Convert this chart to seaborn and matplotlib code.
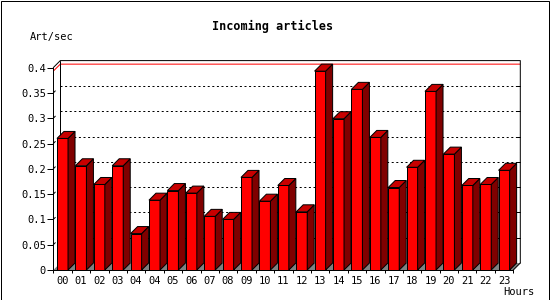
import numpy as np
import pandas as pd
import matplotlib
matplotlib.use("Agg")
import matplotlib.pyplot as plt
from matplotlib.patches import Polygon, Rectangle
import seaborn as sns

# ---- data ----
hours = ["00", "01", "02", "03", "04", "04", "05", "06", "07", "08", "09", "10",
         "11", "12", "13", "14", "15", "16", "17", "18", "19", "20", "21", "22", "23"]
rates = [0.260, 0.206, 0.169, 0.206, 0.072, 0.138, 0.157, 0.152, 0.106, 0.100,
         0.183, 0.136, 0.167, 0.115, 0.393, 0.299, 0.357, 0.262, 0.163, 0.203,
         0.353, 0.229, 0.167, 0.169, 0.197]
yticks = [0, 0.05, 0.1, 0.15, 0.2, 0.25, 0.3, 0.35, 0.4]
ytick_labels = ["0", "0.05", "0.1", "0.15", "0.2", "0.25", "0.3", "0.35", "0.4"]
title = "Incoming articles"
ylabel = "Art/sec"
xlabel = "Hours"

sns.set_style("white")
plt.rcParams["font.family"] = ["DejaVu Sans Mono"]

W, H = 550, 300
fig = plt.figure(figsize=(W / 100, H / 100), dpi=100)
fig.patch.set_facecolor("white")

# front plane axes (pixel geometry)
left_px, right_px, bottom_px, top_px = 53.3, 513.3, 270.0, 67.6
ax = fig.add_axes([left_px / W, 1 - bottom_px / H,
                   (right_px - left_px) / W, (bottom_px - top_px) / H])
ax.set_facecolor("none")

df = pd.DataFrame({"slot": np.arange(len(hours)), "rate": rates})
sns.barplot(data=df, x="slot", y="rate", ax=ax, color="#ff0000", saturation=1,
            width=0.6, edgecolor="black", linewidth=0.72, zorder=5)

ax.set_xlim(-0.5, len(hours) - 0.5)
ax.set_ylim(0, 0.4)

# depth of the 3D effect: 7 px in data units
depth_px = 7.0
x_per_px = (len(hours)) / (right_px - left_px)
y_per_px = 0.4 / (bottom_px - top_px)
dx = depth_px * x_per_px
dy = depth_px * y_per_px

x_lo, x_hi = -0.5, len(hours) - 0.5
lw = 0.72

# floor
ax.add_patch(Polygon([(x_lo, 0), (x_hi, 0), (x_hi + dx, dy), (x_lo + dx, dy)],
                     closed=True, facecolor="#808080", edgecolor="none",
                     zorder=1, clip_on=False))

# grid lines in back plane
for v in yticks[1:-1]:
    ax.plot([x_lo + dx, x_hi + dx], [v + dy, v + dy], color="black", lw=lw,
            linestyle=(0, (2, 2.6)), zorder=2, clip_on=False)
    ax.plot([x_hi + dx - 3 * x_per_px, x_hi + dx], [v + dy, v + dy],
            color="black", lw=lw, zorder=2, clip_on=False)
    # small 3D tick on the left axis
    ax.plot([x_lo, x_lo + 2 * x_per_px], [v, v + 2 * y_per_px],
            color="black", lw=lw, zorder=2, clip_on=False)

# max line (red)
m = max(rates)
ax.plot([x_lo, x_lo + dx, x_hi + dx], [m, m + dy, m + dy], color="#ff0000",
        lw=lw, zorder=3, clip_on=False, solid_capstyle="butt")

# back frame
ax.plot([x_lo, x_lo + dx, x_hi + dx, x_hi + dx],
        [0.4, 0.4 + dy, 0.4 + dy, dy], color="black", lw=lw, zorder=3,
        clip_on=False)
ax.plot([x_lo + dx, x_lo + dx], [0.4 + dy, dy], color="black", lw=lw,
        zorder=3, clip_on=False)
ax.plot([x_hi, x_hi + dx], [0, dy], color="black", lw=lw, zorder=3,
        clip_on=False)

# 3D faces from the bar patches
for p in list(ax.patches):
    if not isinstance(p, Rectangle):
        continue
    x0 = p.get_x()
    w = p.get_width()
    h = p.get_height()
    x1 = x0 + w
    top = Polygon([(x0, h), (x0 + dx, h + dy), (x1 + dx, h + dy), (x1, h)],
                  closed=True, facecolor="#c80000", edgecolor="black",
                  linewidth=lw, zorder=5, clip_on=False)
    side = Polygon([(x1, 0), (x1, h), (x1 + dx, h + dy), (x1 + dx, dy)],
                   closed=True, facecolor="#800000", edgecolor="black",
                   linewidth=lw, zorder=5, clip_on=False)
    ax.add_patch(side)
    ax.add_patch(top)
    p.set_clip_on(False)

# axes styling
for s in ["top", "right"]:
    ax.spines[s].set_visible(False)
for s in ["left", "bottom"]:
    ax.spines[s].set_color("black")
    ax.spines[s].set_linewidth(lw)
    ax.spines[s].set_zorder(6)

ax.set_yticks(yticks)
ax.set_yticklabels(ytick_labels)
ax.set_xticks(np.arange(len(hours)))
ax.set_xticklabels(hours)
ax.set_xticks(np.arange(len(hours) + 1) - 0.5, minor=True)
ax.tick_params(axis="y", which="major", length=4.3, width=lw, direction="out",
               pad=1, labelsize=7.5, colors="black", left=True)
ax.tick_params(axis="x", which="major", length=0, pad=4.5, labelsize=7.5,
               colors="black", bottom=True)
ax.tick_params(axis="x", which="minor", length=2.2, width=lw, direction="out",
               colors="black", bottom=True)
ax.set_xlabel("")
ax.set_ylabel("")
ax.grid(False)

# texts
fig.text(273 / W, 1 - 26.7 / H, title, ha="center", va="center",
         fontsize=8.5, fontweight="bold", color="black")
fig.text(30 / W, 1 - 36.7 / H, ylabel, ha="left", va="center",
         fontsize=7.5, color="black")
fig.text(534 / W, 1 - 291.7 / H, xlabel, ha="right", va="center",
         fontsize=7.5, color="black")

# outer border
fig.patches.append(Rectangle((0.5 / W, 0.5 / H), 548 / W, 299 / H,
                             transform=fig.transFigure, fill=False,
                             edgecolor="black", linewidth=lw))

fig.savefig("out.png", dpi=100)
